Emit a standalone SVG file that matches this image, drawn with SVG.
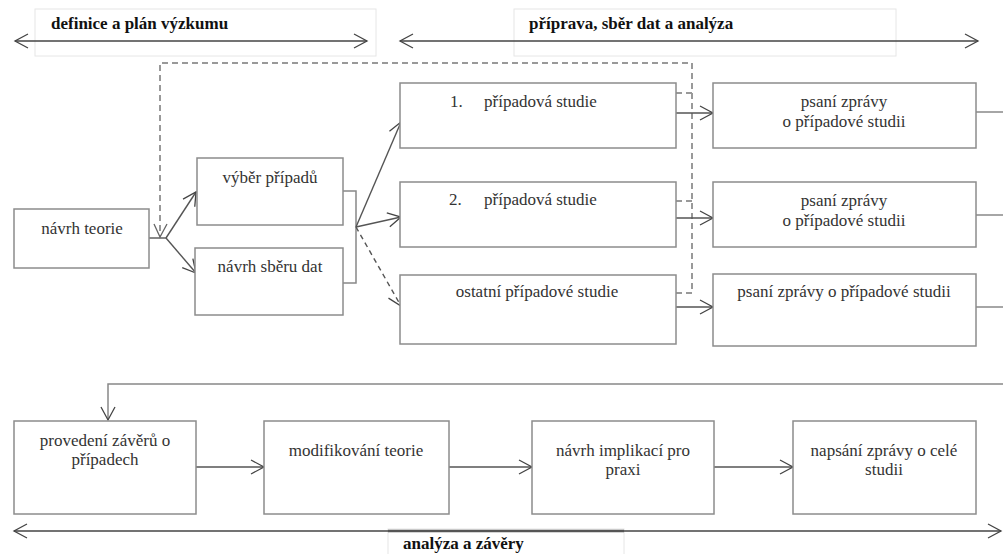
<svg xmlns="http://www.w3.org/2000/svg" width="1003" height="554" viewBox="0 0 1003 554">
<defs>
<marker id="arr" viewBox="0 0 16 16" markerUnits="userSpaceOnUse" markerWidth="16" markerHeight="16" refX="14" refY="8" orient="auto-start-reverse">
<path d="M1,1 L14,8 L1,15" fill="none" stroke="#444" stroke-width="1.3"/>
</marker>
<marker id="arrg" viewBox="0 0 16 16" markerUnits="userSpaceOnUse" markerWidth="16" markerHeight="16" refX="14" refY="8" orient="auto">
<path d="M1,1 L14,8 L1,15" fill="none" stroke="#666" stroke-width="1.3"/>
</marker>
</defs>
<style>
.box{fill:#fff;stroke:#8c8c8c;stroke-width:1.5}
.lbl{fill:#fff;stroke:#e6e6e6;stroke-width:1}
.t{font-family:"Liberation Serif","Times New Roman",serif;font-size:17px;fill:#333}
.c{text-anchor:middle}
.b{font-family:"Liberation Serif","Times New Roman",serif;font-size:17px;font-weight:bold;fill:#111}
.ln{fill:none;stroke:#555;stroke-width:1.4}
.lg{fill:none;stroke:#888;stroke-width:1.5}
.dsh{fill:none;stroke:#999;stroke-width:2;stroke-dasharray:6,4}
.dk{fill:none;stroke:#444;stroke-width:1.5}
</style>
<rect width="1003" height="554" fill="#fff"/>

<g id="phase-labels">
<rect class="lbl" x="35" y="9" width="341" height="47"/>
<rect class="lbl" x="514" y="9" width="382" height="47"/>
<rect class="lbl" x="388" y="529" width="236" height="30"/>
<text class="b" x="51" y="29">definice a plán výzkumu</text>
<text class="b" x="529" y="29">příprava, sběr dat a analýza</text>
<text class="b" x="403" y="549">analýza a závěry</text>
</g>

<g id="connectors">
<line class="dk" x1="15" y1="41" x2="367" y2="41" marker-start="url(#arr)" marker-end="url(#arr)"/>
<line class="dk" x1="400" y1="41" x2="978" y2="41" marker-start="url(#arr)" marker-end="url(#arr)"/>
<line class="dk" x1="14" y1="531" x2="1001" y2="531" marker-start="url(#arr)" marker-end="url(#arr)"/>
<line x1="388" y1="531" x2="624" y2="531" stroke="#555" stroke-width="2.5"/>

<path class="dsh" d="M676,93 H692 M676,201 H692 M676,293 H692 V63 H160 V236"/>
<path d="M154,224 L160,237 L167,224" fill="none" stroke="#666" stroke-width="1.3"/>

<line class="ln" x1="149" y1="238" x2="166" y2="238"/>
<line class="ln" x1="166" y1="238" x2="196" y2="192" marker-end="url(#arr)"/>
<line class="ln" x1="166" y1="238" x2="196" y2="273" marker-end="url(#arr)"/>

<path class="lg" d="M343,191 H356 V283 H343"/>
<line class="ln" x1="356" y1="227" x2="401" y2="122" marker-end="url(#arr)"/>
<line class="ln" x1="356" y1="227" x2="401" y2="217" marker-end="url(#arr)"/>
<line class="ln" x1="356" y1="227" x2="401" y2="306" stroke-dasharray="5,4" marker-end="url(#arr)"/>

<line class="ln" x1="676" y1="113" x2="713" y2="113" marker-end="url(#arr)"/>
<line class="ln" x1="676" y1="218" x2="713" y2="218" marker-end="url(#arr)"/>
<line class="ln" x1="676" y1="307" x2="713" y2="307" marker-end="url(#arr)"/>

<line class="lg" x1="976" y1="112" x2="1003" y2="112"/>
<line class="lg" x1="976" y1="215" x2="1003" y2="215"/>
<line class="lg" x1="976" y1="307" x2="1003" y2="307"/>

<path class="lg" d="M1003,384 H108 V420" marker-end="url(#arr)"/>

<line class="ln" x1="196" y1="467" x2="264" y2="467" marker-end="url(#arr)"/>
<line class="ln" x1="449" y1="467" x2="532" y2="467" marker-end="url(#arr)"/>
<line class="ln" x1="714" y1="467" x2="793" y2="467" marker-end="url(#arr)"/>
</g>

<g id="n-navrh-teorie">
<rect class="box" x="14" y="209" width="135" height="59"/>
<text class="t c" x="82" y="234">návrh teorie</text>
</g>
<g id="n-vyber-pripadu">
<rect class="box" x="197" y="158" width="146" height="67"/>
<text class="t c" x="270" y="183">výběr případů</text>
</g>
<g id="n-navrh-sberu">
<rect class="box" x="195" y="248" width="148" height="67"/>
<text class="t c" x="270" y="272">návrh sběru dat</text>
</g>

<g id="n-studie-1">
<rect class="box" x="400" y="83" width="276" height="65"/>
<text class="t" x="450" y="107">1.</text>
<text class="t" x="484" y="107">případová studie</text>
</g>
<g id="n-studie-2">
<rect class="box" x="400" y="182" width="276" height="65"/>
<text class="t" x="449" y="205">2.</text>
<text class="t" x="484" y="205">případová studie</text>
</g>
<g id="n-studie-ostatni">
<rect class="box" x="400" y="275" width="276" height="69"/>
<text class="t c" x="537" y="297">ostatní případové studie</text>
</g>

<g id="n-zprava-1">
<rect class="box" x="713" y="83" width="263" height="65"/>
<text class="t c" x="844" y="107">psaní zprávy</text>
<text class="t c" x="844" y="127">o případové studii</text>
</g>
<g id="n-zprava-2">
<rect class="box" x="713" y="182" width="263" height="65"/>
<text class="t c" x="844" y="206">psaní zprávy</text>
<text class="t c" x="844" y="226">o případové studii</text>
</g>
<g id="n-zprava-ostatni">
<rect class="box" x="713" y="274" width="263" height="72"/>
<text class="t c" x="844" y="297">psaní zprávy o případové studii</text>
</g>

<g id="n-provedeni">
<rect class="box" x="14" y="421" width="182" height="93"/>
<text class="t c" x="105" y="446">provedení závěrů o</text>
<text class="t c" x="105" y="465">případech</text>
</g>
<g id="n-modifikovani">
<rect class="box" x="264" y="421" width="185" height="93"/>
<text class="t c" x="356" y="456">modifikování teorie</text>
</g>
<g id="n-implikace">
<rect class="box" x="532" y="421" width="182" height="93"/>
<text class="t c" x="623" y="456">návrh implikací pro</text>
<text class="t c" x="623" y="475">praxi</text>
</g>
<g id="n-napsani">
<rect class="box" x="793" y="421" width="183" height="93"/>
<text class="t c" x="884" y="456">napsání zprávy o celé</text>
<text class="t c" x="884" y="475">studii</text>
</g>
</svg>
